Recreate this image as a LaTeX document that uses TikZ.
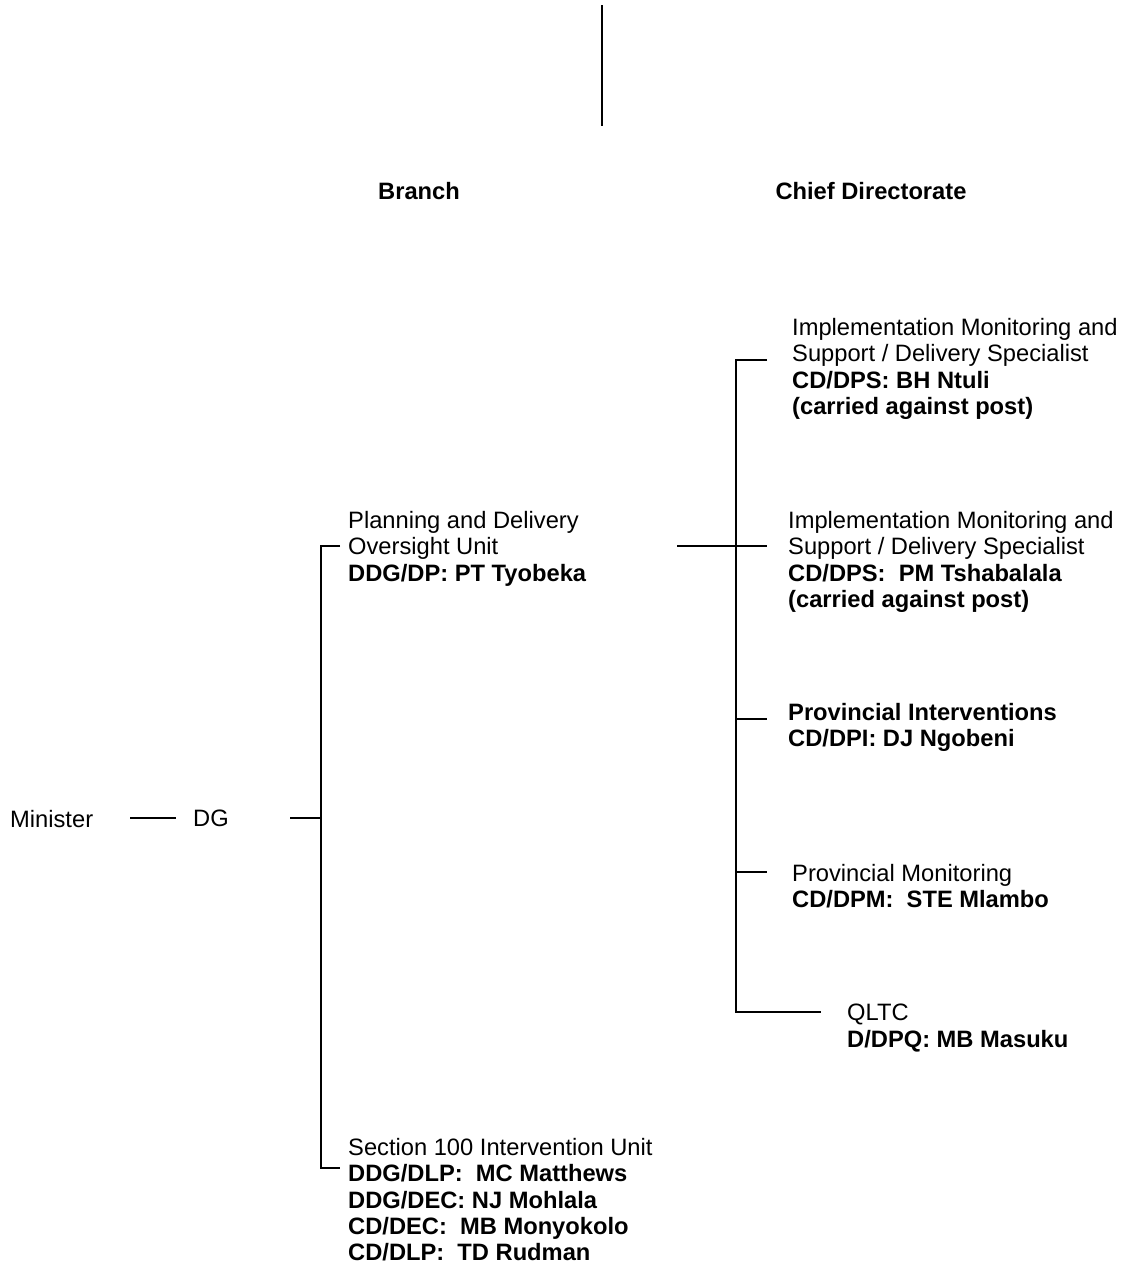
\documentclass[tikz,border=0pt]{standalone}
\usepackage{fontspec}
\setmainfont{Liberation Sans}
\begin{document}
\begin{tikzpicture}[x=1pt,y=-1pt,
  lbl/.style={inner sep=0pt, anchor=north west, align=left,
              font=\fontsize{23.7}{26.4}\selectfont},
  hdr/.style={inner sep=0pt, anchor=north,
              font=\fontsize{23.7}{26.4}\selectfont\bfseries},
  link/.style={line width=1.2pt, black}]
\useasboundingbox (0,0) rectangle (1123,1269);

% column headings and the line from above
\coordinate (topA) at (602,5);
\coordinate (topB) at (602,126);
\draw[link] (topA) -- (topB);
\node[hdr] (branch) at (419,182) {Branch};
\node[hdr] (chief)  at (871,182) {Chief Directorate};

% Minister and DG
\node[lbl] (minister) at (10,810) {Minister};
\node[lbl] (dg) at (193,810) {DG};
\coordinate (mA) at (130,818);
\coordinate (mB) at (176,818);
\draw[link] (mA) -- (mB);

% branch level
\node[lbl] (pdou) at (348,511) {Planning and Delivery\\Oversight Unit\\\textbf{DDG/DP: PT Tyobeka}};
\node[lbl] (s100) at (348,1138) {Section 100 Intervention Unit\\
  \textbf{DDG/DLP:\ \ MC Matthews}\\
  \textbf{DDG/DEC: NJ Mohlala}\\
  \textbf{CD/DEC:\ \ MB Monyokolo}\\
  \textbf{CD/DLP:\ \ TD Rudman}};

\coordinate (dgR) at (290,818);
\coordinate (bTop) at (321,546);
\coordinate (bMid) at (321,818);
\coordinate (bBot) at (321,1168);
\coordinate (bTopE) at (340,546);
\coordinate (bBotE) at (340,1168);
\draw[link] (dgR) -- (bMid);
\draw[link] (bTopE) -- (bTop) -- (bBot) -- (bBotE);

% chief directorate level
\node[lbl] (ims1) at (792,318) {Implementation Monitoring and\\Support / Delivery Specialist\\
  \textbf{CD/DPS: BH Ntuli}\\\textbf{(carried against post)}};
\node[lbl] (ims2) at (788,511) {Implementation Monitoring and\\Support / Delivery Specialist\\
  \textbf{CD/DPS:\ \ PM Tshabalala}\\\textbf{(carried against post)}};
\node[lbl] (pint) at (788,703) {\textbf{Provincial Interventions}\\\textbf{CD/DPI: DJ Ngobeni}};
\node[lbl] (pmon) at (792,864) {Provincial Monitoring\\\textbf{CD/DPM:\ \ STE Mlambo}};
\node[lbl] (qltc) at (847,1004) {QLTC\\\textbf{D/DPQ: MB Masuku}};

\coordinate (pdR) at (677,546);
\coordinate (cTop) at (736,360);
\coordinate (cBot) at (736,1012);
\coordinate (t1) at (767,360);
\coordinate (t2) at (767,546);
\coordinate (j3) at (736,719);
\coordinate (t3) at (767,719);
\coordinate (j4) at (736,872);
\coordinate (t4) at (767,872);
\coordinate (t5) at (821,1012);
\draw[link] (t1) -- (cTop) -- (cBot) -- (t5);
\draw[link] (pdR) -- (t2);
\draw[link] (j3) -- (t3);
\draw[link] (j4) -- (t4);
\end{tikzpicture}
\end{document}
